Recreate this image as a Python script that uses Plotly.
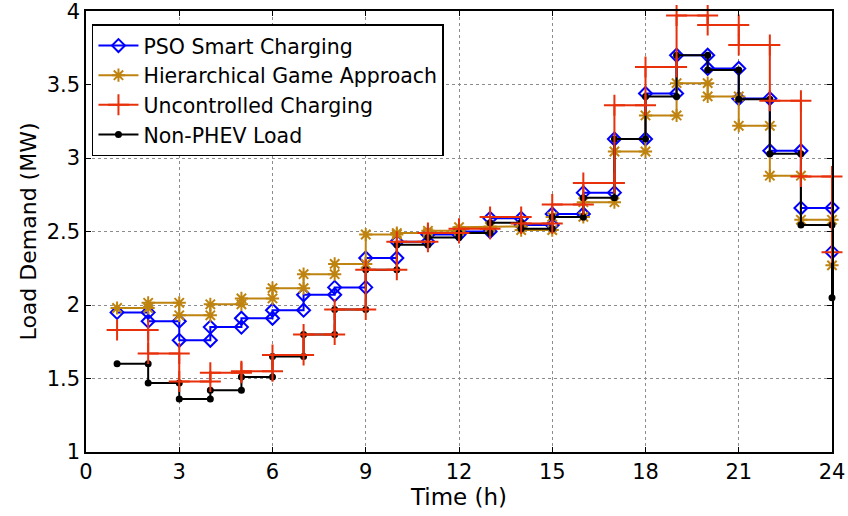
import plotly.graph_objects as go

# Hourly load demand (MW) for hours 1..24
hours = list(range(1, 25))

pso_smart = [1.95, 1.89, 1.76, 1.85, 1.91, 1.965, 2.07, 2.12, 2.32, 2.43, 2.48, 2.50,
             2.59, 2.545, 2.62, 2.765, 3.13, 3.44, 3.70, 3.61, 3.405, 3.05, 2.66, 2.36]
hier_game = [1.98, 2.015, 1.93, 2.005, 2.045, 2.115, 2.21, 2.28, 2.48, 2.49, 2.505, 2.53,
             2.535, 2.51, 2.60, 2.70, 3.045, 3.29, 3.51, 3.42, 3.22, 2.88, 2.58, 2.27]
uncontrolled = [1.83, 1.67, 1.48, 1.54, 1.55, 1.66, 1.80, 1.97, 2.24, 2.43, 2.49, 2.52,
                2.60, 2.555, 2.685, 2.83, 3.36, 3.62, 3.97, 3.905, 3.77, 3.39, 2.875, 2.36]
non_phev = [1.60, 1.47, 1.36, 1.42, 1.51, 1.65, 1.80, 1.97, 2.24, 2.41, 2.46, 2.49,
            2.56, 2.52, 2.60, 2.73, 3.13, 3.42, 3.70, 3.60, 3.40, 3.03, 2.545, 2.05]

x_ticks = [0, 3, 6, 9, 12, 15, 18, 21, 24]
y_ticks = [1, 1.5, 2, 2.5, 3, 3.5, 4]


def stairs(x, y):
    """Vertices of a stair-step curve (marker at every corner)."""
    sx, sy = [], []
    for i in range(len(x) - 1):
        sx += [x[i], x[i + 1]]
        sy += [y[i], y[i]]
    sx.append(x[-1])
    sy.append(y[-1])
    return sx, sy


FONT = "DejaVu Sans, Liberation Sans, Arial, sans-serif"

series = [
    # name, values, colour, marker symbol, marker size, legend rank
    ("PSO Smart Charging", pso_smart, "#0000ff", "diamond-open", 10, 1),
    ("Hierarchical Game Approach", hier_game, "#bf8410", "asterisk-open", 11, 2),
    ("Non-PHEV Load", non_phev, "#000000", "circle", 5, 4),
    ("Uncontrolled Charging", uncontrolled, "#e8300a", "cross-thin-open", 15, 3),
]

fig = go.Figure()
for name, vals, col, sym, size, rank in series:
    sx, sy = stairs(hours, vals)
    fig.add_trace(go.Scatter(
        x=sx, y=sy, name=name, mode="lines+markers",
        line=dict(color=col, width=2),
        marker=dict(symbol=sym, size=size, color=col,
                    line=dict(color=col, width=2)),
        legendrank=rank, cliponaxis=False,
    ))

axis_common = dict(
    showline=True, linecolor="black", linewidth=1.5, mirror="ticks",
    ticks="inside", ticklen=5, tickcolor="black",
    showgrid=True, gridcolor="#8c8c8c", gridwidth=1, griddash="dot",
    zeroline=False, ticklabeloverflow="allow", automargin=False,
    tickfont=dict(family=FONT, size=21, color="black"),
)

fig.update_xaxes(range=[0, 24], tickvals=x_ticks,
                 title=dict(text="Time (h)", font=dict(family=FONT, size=23, color="black"),
                            standoff=0),
                 **axis_common)
fig.update_yaxes(range=[1, 4.001], tickvals=y_ticks,
                 title=dict(text="Load Demand (MW)", font=dict(family=FONT, size=22, color="black"),
                            standoff=4),
                 **axis_common)

fig.update_layout(
    width=848, height=516,
    margin=dict(l=86, r=16, t=11, b=64),
    paper_bgcolor="white", plot_bgcolor="white",
    font=dict(family=FONT, color="black"),
    legend=dict(x=0.008, y=0.97, xanchor="left", yanchor="top",
                bgcolor="white", bordercolor="black", borderwidth=1.5,
                font=dict(family=FONT, size=20.5, color="black"),
                itemwidth=40, tracegroupgap=0),
    showlegend=True,
)

fig.write_html("out.html")
